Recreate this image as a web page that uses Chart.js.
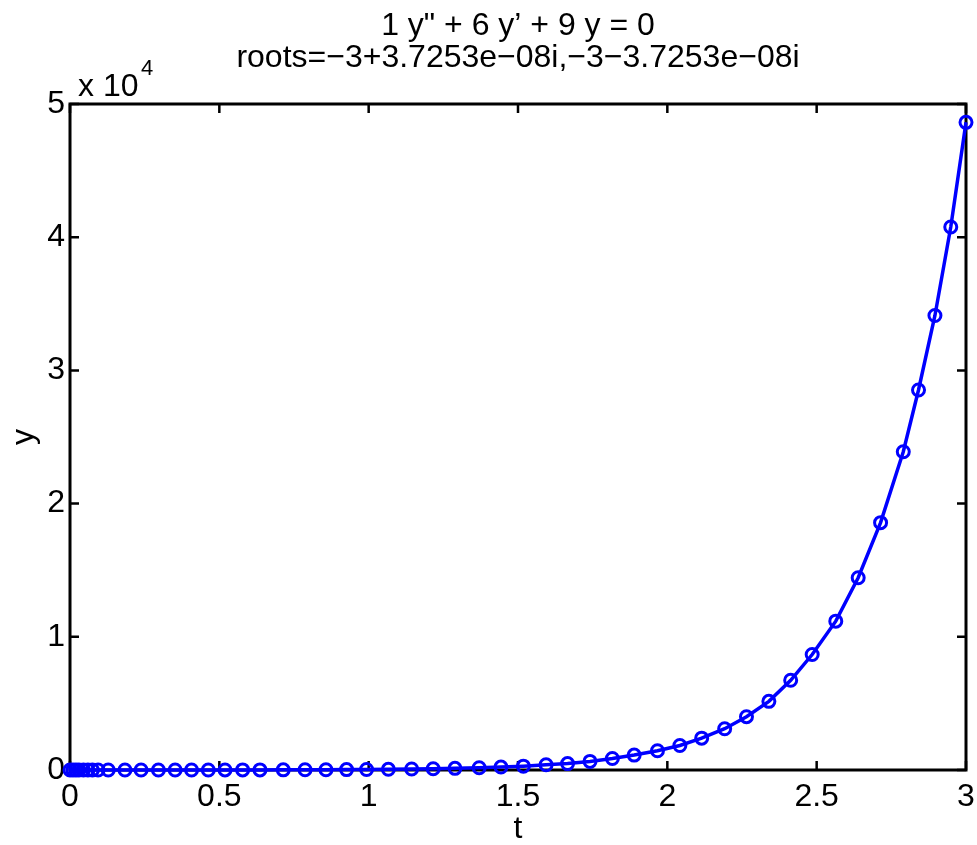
<!DOCTYPE html>
<html>
<head>
<meta charset="utf-8">
<script src="https://cdn.jsdelivr.net/npm/chart.js@4"></script>
<style>
  html, body { margin: 0; padding: 0; background: #fff; }
  #wrap { width: 977px; height: 845px; }
</style>
</head>
<body>
<div id="wrap"><canvas id="ode-chart" width="977" height="845"></canvas></div>
<script>
// solver output
const tValues = [0, 0.01, 0.02, 0.03, 0.045, 0.06, 0.075, 0.094, 0.128, 0.184,
    0.238, 0.296, 0.352, 0.407, 0.463, 0.519, 0.578, 0.636, 0.714, 0.787,
    0.857, 0.926, 0.993, 1.066, 1.144, 1.216, 1.289, 1.370, 1.443, 1.518,
    1.594, 1.666, 1.741, 1.816, 1.889, 1.967, 2.042, 2.115, 2.192, 2.265,
    2.340, 2.413, 2.485, 2.564, 2.639, 2.714, 2.790, 2.841, 2.896, 2.949, 3.0];
const yValues = [0, 0.02, 0.04, 0.07, 0.1, 0.14, 0.19, 0.25, 0.4, 0.6,
    1, 1.4, 2, 2.7, 3.7, 5, 6.6, 8.6, 12, 17,
    23, 30, 39, 52, 71, 93, 124, 165, 220, 290,
    390, 480, 645, 860, 1120, 1445, 1843, 2393, 3100, 4003,
    5154, 6734, 8668, 11173, 14431, 18570, 23890, 28530, 34123, 40767, 48622];
const xTicks = [0, 0.5, 1, 1.5, 2, 2.5, 3];
const yTicks = [0, 10000, 20000, 30000, 40000, 50000];
const titleLines = ['1 y" + 6 y\u2019 + 9 y = 0', 'roots=\u22123+3.7253e\u221208i,\u22123\u22123.7253e\u221208i'];

const FONT = '"Liberation Sans", Arial, sans-serif';
const FONT_SIZE = 32;

// matlab style box with inward ticks, drawn under the data
const boxPlugin = {
    id: 'matlabBox',
    beforeDatasetsDraw(chart) {
        const ctx = chart.ctx;
        const a = chart.chartArea;
        const xs = chart.scales.x, ys = chart.scales.y;
        const tick = 9;
        ctx.save();
        ctx.strokeStyle = '#000';
        ctx.lineWidth = 3;
        ctx.strokeRect(a.left, a.top, a.right - a.left, a.bottom - a.top);
        ctx.lineWidth = 2.5;
        ctx.beginPath();
        xTicks.forEach(v => {
            const px = xs.getPixelForValue(v);
            ctx.moveTo(px, a.bottom); ctx.lineTo(px, a.bottom - tick);
            ctx.moveTo(px, a.top); ctx.lineTo(px, a.top + tick);
        });
        yTicks.forEach(v => {
            const py = ys.getPixelForValue(v);
            ctx.moveTo(a.left, py); ctx.lineTo(a.left + tick, py);
            ctx.moveTo(a.right, py); ctx.lineTo(a.right - tick, py);
        });
        ctx.stroke();
        ctx.restore();
    },
    afterDraw(chart) {
        const ctx = chart.ctx;
        const a = chart.chartArea;
        const cx = (a.left + a.right) / 2;
        ctx.save();
        ctx.fillStyle = '#000';
        ctx.font = FONT_SIZE + 'px ' + FONT;
        ctx.textAlign = 'center';
        ctx.textBaseline = 'alphabetic';
        ctx.fillText(titleLines[0], cx, 35);
        ctx.fillText(titleLines[1], cx, 67);
        ctx.fillText('t', cx, 838);
        // exponent label
        ctx.textAlign = 'left';
        ctx.fillText('x 10', 78, 96);
        ctx.font = '22px ' + FONT;
        ctx.fillText('4', 141, 75);
        // y label
        ctx.font = FONT_SIZE + 'px ' + FONT;
        ctx.translate(24, (a.top + a.bottom) / 2);
        ctx.rotate(-Math.PI / 2);
        ctx.textAlign = 'center';
        ctx.textBaseline = 'middle';
        ctx.fillText('y', 0, 0);
        ctx.restore();
    }
};

const canvas = document.getElementById('ode-chart');
const chart = new Chart(canvas.getContext('2d'), {
    type: 'line',
    data: {
        datasets: [{
            label: 'y',
            data: tValues.map((t, i) => ({ x: t, y: yValues[i] })),
            borderColor: '#0000ff',
            borderWidth: 3.5,
            pointRadius: 6,
            pointBorderWidth: 3,
            pointBorderColor: '#0000ff',
            pointBackgroundColor: 'rgba(0,0,0,0)',
            tension: 0,
            clip: false,
        }],
    },
    options: {
        responsive: false,
        animation: false,
        events: [],
        layout: { padding: { top: 104, right: 11, left: 0, bottom: 0 } },
        plugins: {
            legend: { display: false },
            title: { display: false },
            tooltip: { enabled: false },
        },
        scales: {
            x: {
                type: 'linear',
                min: 0,
                max: 3,
                afterFit(scale) {
                    scale.height = 75;
                    scale.paddingLeft = 0;
                    scale.paddingRight = 0;
                },
                afterBuildTicks(scale) { scale.ticks = xTicks.map(v => ({ value: v })); },
                grid: { display: false, drawTicks: false },
                border: { display: false },
                ticks: {
                    color: '#000',
                    padding: 8,
                    maxRotation: 0,
                    autoSkip: false,
                    font: { family: FONT, size: FONT_SIZE },
                    callback: v => String(v),
                },
            },
            y: {
                type: 'linear',
                min: 0,
                max: 50000,
                afterFit(scale) {
                    scale.width = 70;
                    scale.paddingTop = 0;
                    scale.paddingBottom = 0;
                },
                afterBuildTicks(scale) { scale.ticks = yTicks.map(v => ({ value: v })); },
                grid: { display: false, drawTicks: false },
                border: { display: false },
                ticks: {
                    color: '#000',
                    padding: 5,
                    font: { family: FONT, size: FONT_SIZE },
                    callback: v => String(v / 10000),
                },
            },
        },
    },
    plugins: [boxPlugin],
});
</script>
</body>
</html>
